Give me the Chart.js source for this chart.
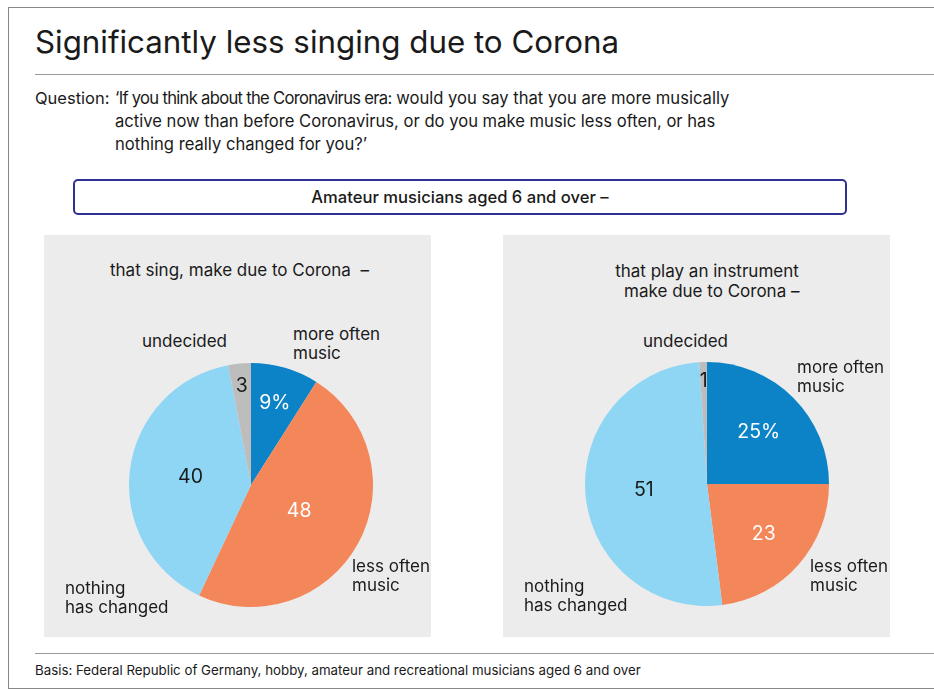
<!DOCTYPE html>
<html>
<head>
<meta charset="utf-8">
<script src="https://cdn.jsdelivr.net/npm/chart.js@4.4.0/dist/chart.umd.min.js"></script>
<style>
  body { margin: 0; background: #fff; font-family: Inter, "Liberation Sans", sans-serif; color: #1a1a1a; }
  #page { position: relative; width: 934px; height: 689px; overflow: hidden; }
  .abs { position: absolute; white-space: nowrap; }
  .rule { position: absolute; background: #999; height: 1px; }
  .lbl { position: absolute; white-space: nowrap; font-size: 17px; line-height: 19px; }
  .panel { position: absolute; background: #ececec; width: 387px; height: 402px; top: 235px; }
  canvas { position: absolute; }
</style>
</head>
<body>
<div id="page">
  <!-- frame -->
  <div class="abs" style="left:8px;top:7px;width:940px;height:680px;border-left:1px solid #888;border-top:1px solid #888;border-bottom:1px solid #888;"></div>

  <div class="abs" style="left:35px;top:24px;font-size:31.3px;line-height:36px;">Significantly less singing due to Corona</div>
  <div class="rule" style="left:35px;top:74px;width:900px;"></div>

  <div class="abs" style="left:35px;top:87px;font-size:16.5px;line-height:23px;">Question:</div>
  <div class="abs" style="left:115px;top:87px;font-size:16.6px;line-height:23px;">
    <span style="letter-spacing:-0.7px">‘If you think about the Coronavirus era:</span> would you say that you are more musically<br>
    active now than before Coronavirus, or do you make music less often, or has<br>
    nothing really changed for you?’
  </div>

  <div class="abs" style="left:73px;top:179px;width:770px;height:32px;border:2px solid #2e3192;border-radius:5px;text-align:center;font-size:16.6px;line-height:32px;font-weight:500;">Amateur musicians aged 6 and over –</div>

  <div class="panel" style="left:44px;"></div>
  <div class="panel" style="left:503px;"></div>

  <canvas id="pieSing" width="244" height="244" style="left:129px;top:363px;"></canvas>
  <canvas id="pieInstrument" width="244" height="244" style="left:585px;top:362px;"></canvas>

  <!-- left panel texts -->
  <div class="lbl" style="left:110px;top:261px;">that sing, make due to Corona&nbsp; –</div>
  <div class="lbl" style="left:142px;top:332px;">undecided</div>
  <div class="lbl" style="left:293px;top:325px;">more often<br>music</div>
  <div class="lbl" style="left:352px;top:557px;">less often<br>music</div>
  <div class="lbl" style="left:65px;top:579px;">nothing<br>has changed</div>

  <!-- right panel texts -->
  <div class="lbl" style="left:557px;top:261px;width:300px;text-align:center;line-height:20px;">that play an instrument<br>&nbsp;&nbsp;make due to Corona –</div>
  <div class="lbl" style="left:643px;top:332px;">undecided</div>
  <div class="lbl" style="left:797px;top:358px;">more often<br>music</div>
  <div class="lbl" style="left:810px;top:557px;">less often<br>music</div>
  <div class="lbl" style="left:524px;top:577px;">nothing<br>has changed</div>

  <div class="rule" style="left:35px;top:653px;width:900px;"></div>
  <div class="abs" style="left:35px;top:661px;font-size:13.3px;line-height:18px;">Basis: Federal Republic of Germany, hobby, amateur and recreational musicians aged 6 and over</div>
</div>

<script>
// Werte in Prozent, Reihenfolge im Uhrzeigersinn ab 12 Uhr
const categories = ['more often music', 'less often music', 'nothing has changed', 'undecided'];
const singValues = [9, 48, 40, 3];
const instrumentValues = [25, 23, 51, 1];

const sliceColors = ['#0c83c7', '#f4875a', '#8fd5f4', '#bdbdbd'];
const valueColors = ['#ffffff', '#ffffff', '#1a1a1a', '#1a1a1a'];

// Zahlen in den Segmenten, Abstand vom Mittelpunkt als Anteil des Radius
const sliceLabels = {
  id: 'sliceLabels',
  afterDatasetsDraw(chart, args, opts) {
    const ctx = chart.ctx;
    const values = chart.data.datasets[0].data;
    ctx.save();
    ctx.font = '19.5px Inter, "Liberation Sans", sans-serif';
    ctx.textAlign = 'center';
    ctx.textBaseline = 'middle';
    chart.getDatasetMeta(0).data.forEach((arc, i) => {
      const p = arc.getProps(['x', 'y', 'startAngle', 'endAngle', 'outerRadius'], true);
      const mid = (p.startAngle + p.endAngle) / 2;
      const r = p.outerRadius * opts.radii[i];
      ctx.fillStyle = valueColors[i];
      ctx.fillText(values[i] + (i === 0 ? '%' : ''), p.x + Math.cos(mid) * r, p.y + Math.sin(mid) * r);
    });
    ctx.restore();
  }
};

function kreis(id, values, radii) {
  new Chart(document.getElementById(id), {
    type: 'pie',
    data: {
      labels: categories,
      datasets: [{
        data: values,
        backgroundColor: sliceColors,
        borderWidth: 0
      }]
    },
    options: {
      responsive: false,
      animation: false,
      layout: { padding: 0 },
      plugins: {
        legend: { display: false },
        tooltip: { enabled: false },
        sliceLabels: { radii: radii }
      }
    },
    plugins: [sliceLabels]
  });
}

kreis('pieSing', singValues, [0.7, 0.45, 0.5, 0.81]);
kreis('pieInstrument', instrumentValues, [0.6, 0.62, 0.52, 0.84]);
</script>
</body>
</html>
